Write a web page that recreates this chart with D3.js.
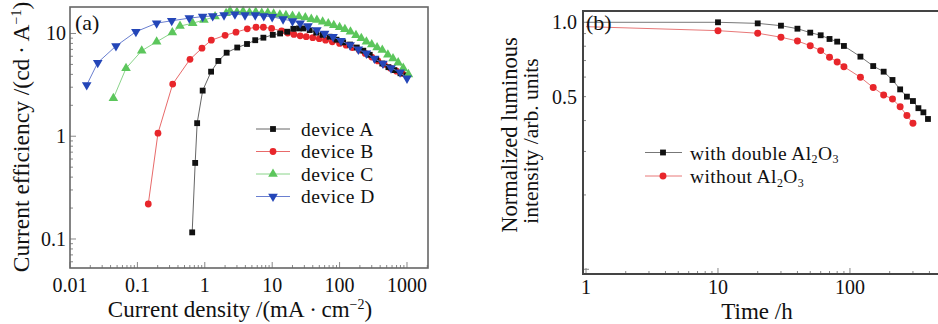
<!DOCTYPE html>
<meta charset="utf-8">
<script src="https://d3js.org/d3.v7.min.js"></script>
<style>
  body { margin: 0; background: #fff; }
  text { font-family: "Liberation Serif", "Times New Roman", serif; fill: #111; }
</style>
<body>
<div id="chart"></div>
<script>

// ---------- data, panel (a): current efficiency vs current density ----------
var densA = [0.65, 0.72, 0.77, 0.93, 1.24, 1.59, 2.11, 3.03, 4.23, 5.6, 7.4, 10.2, 13.1, 16.7, 20.6, 25, 29, 36, 45, 56, 71, 90, 113, 143, 180, 225, 280, 350, 430, 530, 650, 800, 1000]
var effA  = [0.116, 0.55, 1.34, 2.78, 4.25, 5.4, 6.5, 7.3, 7.9, 8.6, 9.1, 9.7, 10.0, 10.4, 11.1, 11.2, 11.2, 10.8, 10.2, 9.7, 9.3, 8.7, 8.2, 7.8, 7.3, 6.8, 6.2, 5.6, 5.1, 4.7, 4.4, 4.1, 3.9]

var densB = [0.145, 0.202, 0.334, 0.603, 0.908, 1.25, 2.0, 2.9, 4.27, 5.75, 7.4, 9.8, 13.8, 17, 21, 26, 32, 40, 50, 62, 78, 100, 125, 155, 195, 240, 300, 370, 460, 570, 700, 850, 1000]
var effB  = [0.219, 1.07, 3.22, 5.6, 7.2, 8.6, 9.6, 10.3, 11.1, 11.5, 11.5, 11.2, 10.6, 10.1, 9.8, 9.5, 9.3, 9.1, 8.9, 8.6, 8.3, 8.0, 7.7, 7.3, 6.9, 6.4, 5.9, 5.4, 5.0, 4.6, 4.3, 4.1, 3.9]

var densC = [0.044, 0.0678, 0.116, 0.193, 0.33, 0.429, 0.661, 0.972, 1.42, 2.07, 2.37, 3.0, 3.7, 4.6, 5.7, 7.0, 8.6, 10.5, 13, 16, 20, 25, 31, 38, 46, 56, 68, 82, 100, 120, 145, 175, 210, 250, 300, 360, 430, 520, 620, 740, 880, 1050]
var effC  = [2.34, 4.58, 6.8, 8.3, 10.2, 11.8, 12.6, 13.5, 14.6, 15.7, 16.6, 16.2, 16.4, 16.0, 16.2, 15.8, 15.9, 15.5, 15.2, 15.0, 14.8, 14.6, 14.3, 13.8, 13.5, 13.0, 12.5, 12.0, 11.5, 11.0, 10.4, 9.6, 9.0, 8.3, 7.8, 7.3, 6.9, 6.2, 5.7, 5.2, 4.6, 4.0]

var densD = [0.0177, 0.0258, 0.0481, 0.095, 0.193, 0.323, 0.589, 0.93, 1.31, 1.93, 2.8, 3.95, 5.6, 7.5, 10, 14.5, 20, 26, 34, 46, 60, 80, 105, 143, 190, 250, 330, 440, 580, 790, 1000]
var effD  = [3.15, 5.2, 7.55, 10.4, 12.6, 13.3, 14.1, 14.6, 14.8, 15.1, 15.4, 15.1, 15.1, 14.8, 14.5, 13.8, 13.2, 12.6, 11.8, 10.8, 10.0, 9.3, 8.5, 7.7, 7.0, 6.4, 5.7, 5.1, 4.6, 4.2, 3.66]

var devices = ["device A", "device B", "device C", "device D"]
var xTicksA = [0.01, 0.1, 1, 10, 100, 1000]
var yTicksA = [0.1, 1, 10]

// ---------- data, panel (b): normalized luminous intensity vs time ----------
var timeWith    = [10, 20, 30, 40, 50, 60, 70, 80, 90, 120, 150, 180, 210, 240, 270, 300, 330, 360, 390]
var lumWith     = [1.0, 0.99, 0.969, 0.942, 0.908, 0.886, 0.856, 0.835, 0.802, 0.726, 0.665, 0.631, 0.584, 0.535, 0.50, 0.48, 0.449, 0.432, 0.406]
var timeWithout = [10, 20, 30, 40, 50, 60, 70, 80, 90, 120, 150, 180, 210, 240, 270, 300]
var lumWithout  = [0.925, 0.903, 0.87, 0.84, 0.804, 0.768, 0.722, 0.691, 0.661, 0.599, 0.544, 0.508, 0.489, 0.455, 0.419, 0.39]
// the curves start at the left axis (t = 1 h) without a marker
var startWith = 1.0, startWithout = 0.96
var xTicksB = [1, 10, 100]
var yTicksB = [0.5, 1.0]

var svg = d3.select("#chart")
  .append("svg")
    .attr("width", 938)
    .attr("height", 324)

function zip(xs, ys) { return xs.map(function(x, i) { return {x: x, y: ys[i]} }) }

function isMajor(v) {
  var l = Math.log10(v)
  return Math.abs(l - Math.round(l)) < 1e-6
}

// inward ticks on the bottom and left of a log-log plot, plus x tick labels
function frame(g, x, y, xMajor, labelY) {
  var x0 = x.range()[0], y0 = y.range()[0]

  g.selectAll(".xt").data(x.ticks()).enter().append("line")
    .attr("x1", function(d) { return x(d) }).attr("x2", function(d) { return x(d) })
    .attr("y1", y0).attr("y2", function(d) { return y0 - (isMajor(d) ? 6 : 3) })
    .attr("stroke", "#888").attr("stroke-width", 1)
  g.selectAll(".yt").data(y.ticks()).enter().append("line")
    .attr("y1", function(d) { return y(d) }).attr("y2", function(d) { return y(d) })
    .attr("x1", x0).attr("x2", function(d) { return x0 + (isMajor(d) ? 6 : 3) })
    .attr("stroke", "#888").attr("stroke-width", 1)

  g.selectAll(".xl").data(xMajor).enter().append("text")
    .attr("x", function(d) { return x(d) })
    .attr("y", labelY)
    .attr("text-anchor", "middle")
    .style("font-size", "20px")
    .text(function(d) { return d })
}

// ================= panel (a) =================
var xA = d3.scaleLog().domain([0.01, 2050]).range([70, 428])
var yA = d3.scaleLog().domain([0.0522, 18.1]).range([268, 7])

var gA = svg.append("g")
frame(gA, xA, yA, xTicksA, 292)

gA.selectAll(".yl").data(yTicksA).enter().append("text")
  .attr("x", 66).attr("y", function(d) { return yA(d) + 7 })
  .attr("text-anchor", "end")
  .style("font-size", "20px")
  .text(function(d) { return d })

var colorsA = ["#111111", "#e8262b", "#5cc65c", "#2446b8"]
var lineColorsA = ["#666666", "#e86a6a", "#8ad48a", "#6a7fd0"]
var symbolsA = [d3.symbolSquare, d3.symbolCircle, d3.symbolTriangle, d3.symbolTriangle]
var rotA = [0, 0, 0, 180]
var sizeA = [34, 36, 40, 40]
var seriesA = [zip(densA, effA), zip(densB, effB), zip(densC, effC), zip(densD, effD)]

var lineA = d3.line().x(function(d) { return xA(d.x) }).y(function(d) { return yA(d.y) })

// drawing order: B, A, C, D (blue ends up on top, as in the figure)
;[1, 0, 2, 3].forEach(function(k) {
  gA.append("path")
    .datum(seriesA[k])
    .attr("d", lineA)
    .attr("fill", "none")
    .attr("stroke", lineColorsA[k])
    .attr("stroke-width", 1)
  gA.selectAll(".m" + k).data(seriesA[k]).enter().append("path")
    .attr("d", d3.symbol().type(symbolsA[k]).size(sizeA[k]))
    .attr("transform", function(d) { return "translate(" + xA(d.x) + "," + yA(d.y) + ") rotate(" + rotA[k] + ")" })
    .attr("fill", colorsA[k])
})

gA.append("rect")
  .attr("x", 70).attr("y", 7).attr("width", 358).attr("height", 261)
  .attr("fill", "none").attr("stroke", "#666").attr("stroke-width", 1.6)

// legend (a)
var legA = gA.selectAll(".legA").data(devices).enter().append("g")
  .attr("transform", function(d, i) { return "translate(0," + (129 + i * 22.5) + ")" })
legA.append("line")
  .attr("x1", 256).attr("x2", 290)
  .attr("stroke", function(d, i) { return lineColorsA[i] }).attr("stroke-width", 1)
legA.append("path")
  .attr("d", function(d, i) { return d3.symbol().type(symbolsA[i]).size(sizeA[i])() })
  .attr("transform", function(d, i) { return "translate(273,0) rotate(" + rotA[i] + ")" })
  .attr("fill", function(d, i) { return colorsA[i] })
legA.append("text")
  .attr("x", 301).attr("y", 6.5)
  .style("font-size", "19.5px")
  .style("letter-spacing", "0.5px")
  .text(function(d) { return d })

gA.append("text").attr("x", 75).attr("y", 30).style("font-size", "22px").text("(a)")

var xtA = gA.append("text")
  .attr("x", 240).attr("y", 317)
  .attr("text-anchor", "middle")
  .style("font-size", "23px")
xtA.append("tspan").text("Current density /(mA\u2009·\u2009cm")
xtA.append("tspan").attr("dy", -8).style("font-size", "14px").text("\u22122")
xtA.append("tspan").attr("dy", 8).text(")")

var ytA = gA.append("text")
  .attr("transform", "translate(29,137) rotate(-90)")
  .attr("text-anchor", "middle")
  .style("font-size", "23.5px")
ytA.append("tspan").text("Current efficiency /(cd\u2009·\u2009A")
ytA.append("tspan").attr("dy", -8).style("font-size", "14px").text("\u22121")
ytA.append("tspan").attr("dy", 8).text(")")

// ================= panel (b) =================
var xB = d3.scaleLog().domain([0.949, 481]).range([583, 940])
var yB = d3.scaleLog().domain([0.0957, 1.111]).range([274, 11])

var gB = svg.append("g")
frame(gB, xB, yB, xTicksB, 294)

gB.selectAll(".yl").data(yTicksB).enter().append("text")
  .attr("x", 577).attr("y", function(d) { return yB(d) + 7 })
  .attr("text-anchor", "end")
  .style("font-size", "20px")
  .text(function(d) { return d.toFixed(1) })

var lineB = d3.line().x(function(d) { return xB(d.x) }).y(function(d) { return yB(d.y) })

var seriesB = [
  {pts: zip(timeWith, lumWith), start: startWith, fill: "#111", line: "#777", sym: d3.symbolSquare, size: 34},
  {pts: zip(timeWithout, lumWithout), start: startWithout, fill: "#e8262b", line: "#e87878", sym: d3.symbolCircle, size: 38}
]

seriesB.forEach(function(s, k) {
  gB.append("path")
    .datum([{x: 1, y: s.start}].concat(s.pts))
    .attr("d", lineB)
    .attr("fill", "none")
    .attr("stroke", s.line)
    .attr("stroke-width", 1)
  gB.selectAll(".mb" + k).data(s.pts).enter().append("path")
    .attr("d", d3.symbol().type(s.sym).size(s.size))
    .attr("transform", function(d) { return "translate(" + xB(d.x) + "," + yB(d.y) + ")" })
    .attr("fill", s.fill)
})

// frame (b): right side runs off the picture
gB.append("path")
  .attr("d", "M940,11H583V274H940")
  .attr("fill", "none").attr("stroke", "#444").attr("stroke-width", 2)

// legend (b)
var legB = gB.selectAll(".legB").data(["with double Al", "without Al"]).enter().append("g")
  .attr("transform", function(d, i) { return "translate(0," + (152.5 + i * 23.5) + ")" })
legB.append("line")
  .attr("x1", 645).attr("x2", 682)
  .attr("stroke", function(d, i) { return seriesB[i].line }).attr("stroke-width", 1)
legB.append("path")
  .attr("d", function(d, i) { return d3.symbol().type(seriesB[i].sym).size(seriesB[i].size)() })
  .attr("transform", "translate(663,0)")
  .attr("fill", function(d, i) { return seriesB[i].fill })
var lt = legB.append("text")
  .attr("x", 690).attr("y", 7)
  .style("font-size", "19.5px")
  .style("letter-spacing", "0.4px")
lt.append("tspan").text(function(d) { return d })
lt.append("tspan").attr("dy", 3.5).style("font-size", "12px").text("2")
lt.append("tspan").attr("dy", -3.5).text("O")
lt.append("tspan").attr("dy", 3.5).style("font-size", "12px").text("3")

gB.append("text").attr("x", 586).attr("y", 30).style("font-size", "22px").text("(b)")

gB.append("text")
  .attr("x", 757).attr("y", 319)
  .attr("text-anchor", "middle")
  .style("font-size", "23px")
  .text("Time /h")

gB.append("text")
  .attr("transform", "translate(517,135) rotate(-90)")
  .attr("text-anchor", "middle")
  .style("font-size", "22.5px")
  .text("Normalized luminous")
gB.append("text")
  .attr("transform", "translate(538,141) rotate(-90)")
  .attr("text-anchor", "middle")
  .style("font-size", "21.5px")
  .text("intensity /arb. units")

</script>
</body>
